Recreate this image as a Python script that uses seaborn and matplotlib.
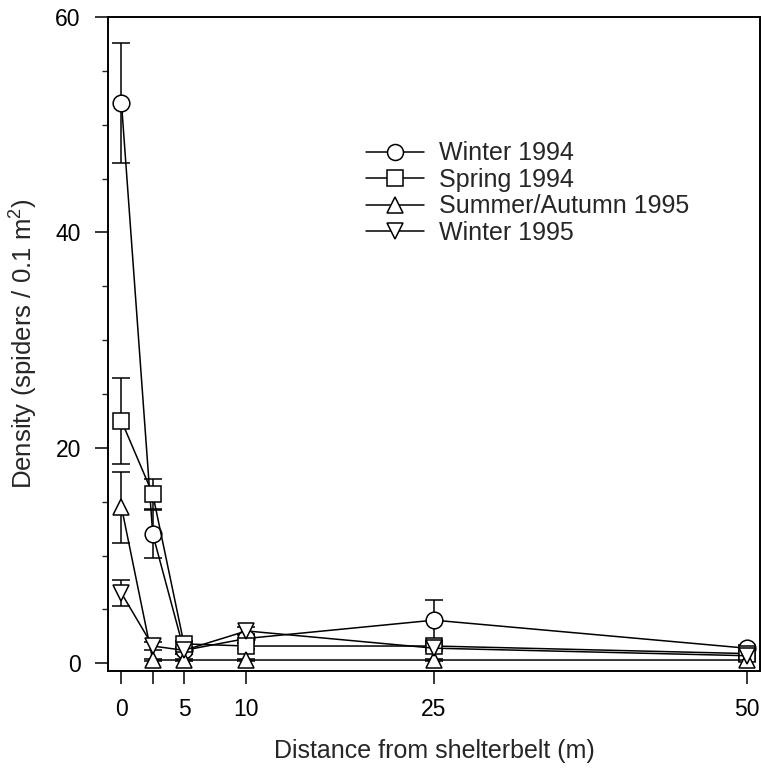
import numpy as np
import pandas as pd
import matplotlib
matplotlib.use('Agg')
import matplotlib.pyplot as plt
from matplotlib.lines import Line2D
from matplotlib.ticker import MultipleLocator
import seaborn as sns

# data (mean and standard error per distance)
distance = [0, 2.5, 5, 10, 25, 50]
seasons = ['Winter 1994', 'Spring 1994', 'Summer/Autumn 1995', 'Winter 1995']

winter94 = [52.0, 12.0, 1.2, 2.3, 4.0, 1.4]
winter94_se = [5.6, 2.2, 0.3, 0.4, 1.9, 0.3]
spring94 = [22.5, 15.7, 1.8, 1.6, 1.6, 0.9]
spring94_se = [4.0, 1.4, 0.3, 0.3, 0.3, 0.2]
summer95 = [14.5, 0.3, 0.3, 0.3, 0.3, 0.3]
summer95_se = [3.3, 0.1, 0.1, 0.1, 0.1, 0.1]
winter95 = [6.5, 1.6, 1.2, 3.0, 1.4, 0.7]
winter95_se = [1.2, 0.4, 0.3, 0.4, 0.3, 0.2]

values = [winter94, spring94, summer95, winter95]
errors = [winter94_se, spring94_se, summer95_se, winter95_se]
markers = {'Winter 1994': 'o', 'Spring 1994': 's',
           'Summer/Autumn 1995': '^', 'Winter 1995': 'v'}

df = pd.DataFrame({
    'distance': distance * 4,
    'density': sum(values, []),
    'se': sum(errors, []),
    'season': [s for s in seasons for _ in distance],
})

sns.set_style('ticks')
plt.rcParams['font.family'] = ['Liberation Sans', 'DejaVu Sans']
plt.rcParams['mathtext.fontset'] = 'custom'
plt.rcParams['mathtext.rm'] = 'Liberation Sans'
plt.rcParams['mathtext.it'] = 'Liberation Sans'

fig = plt.figure(figsize=(7.75, 7.69), dpi=100)
ax = fig.add_axes([0.139, 0.127, 0.842, 0.851])

# error bars first so the markers sit on top
for s, v, e in zip(seasons, values, errors):
    ax.errorbar(distance, v, yerr=e, fmt='none', ecolor='black',
                elinewidth=1.1, capsize=6.5, capthick=1.1, zorder=1)

sns.lineplot(data=df, x='distance', y='density', hue='season', style='season',
             hue_order=seasons, style_order=seasons,
             palette=['black'] * 4, markers=markers, dashes=False,
             markersize=12, markerfacecolor='white', markeredgecolor='black',
             markeredgewidth=1.1, linewidth=1.1, legend=False, ax=ax, zorder=2)

ax.set_xlim(-1.1, 51.1)
ax.set_ylim(-0.75, 60)
ax.set_xticks(distance)
ax.set_xticklabels(['0', '', '5', '10', '25', '50'])
ax.set_yticks([0, 20, 40, 60])
ax.yaxis.set_minor_locator(MultipleLocator(5))
ax.tick_params(axis='both', which='major', direction='out', length=9.4,
               width=1.1, labelsize=16.5, pad=10, color='black', labelcolor='black')
ax.tick_params(axis='y', which='minor', direction='out', length=4.5, width=1.0)
for sp in ax.spines.values():
    sp.set_visible(True)
    sp.set_color('black')
    sp.set_linewidth(1.4)

ax.set_xlabel('Distance from shelterbelt (m)', fontsize=18, labelpad=13)
ax.set_ylabel('Density (spiders / 0.1 m$^2$)', fontsize=18.5, labelpad=11)

handles = [Line2D([], [], color='black', lw=1.1, marker=markers[s], markersize=11.5,
                  mfc='white', mec='black', mew=1.1) for s in seasons]
ax.legend(handles, seasons, loc='upper left', bbox_to_anchor=(0.396, 0.81),
          frameon=False, fontsize=18, handlelength=2.3, handletextpad=0.6,
          labelspacing=0.1, borderpad=0, borderaxespad=0)

fig.savefig('out.png', dpi=100)
